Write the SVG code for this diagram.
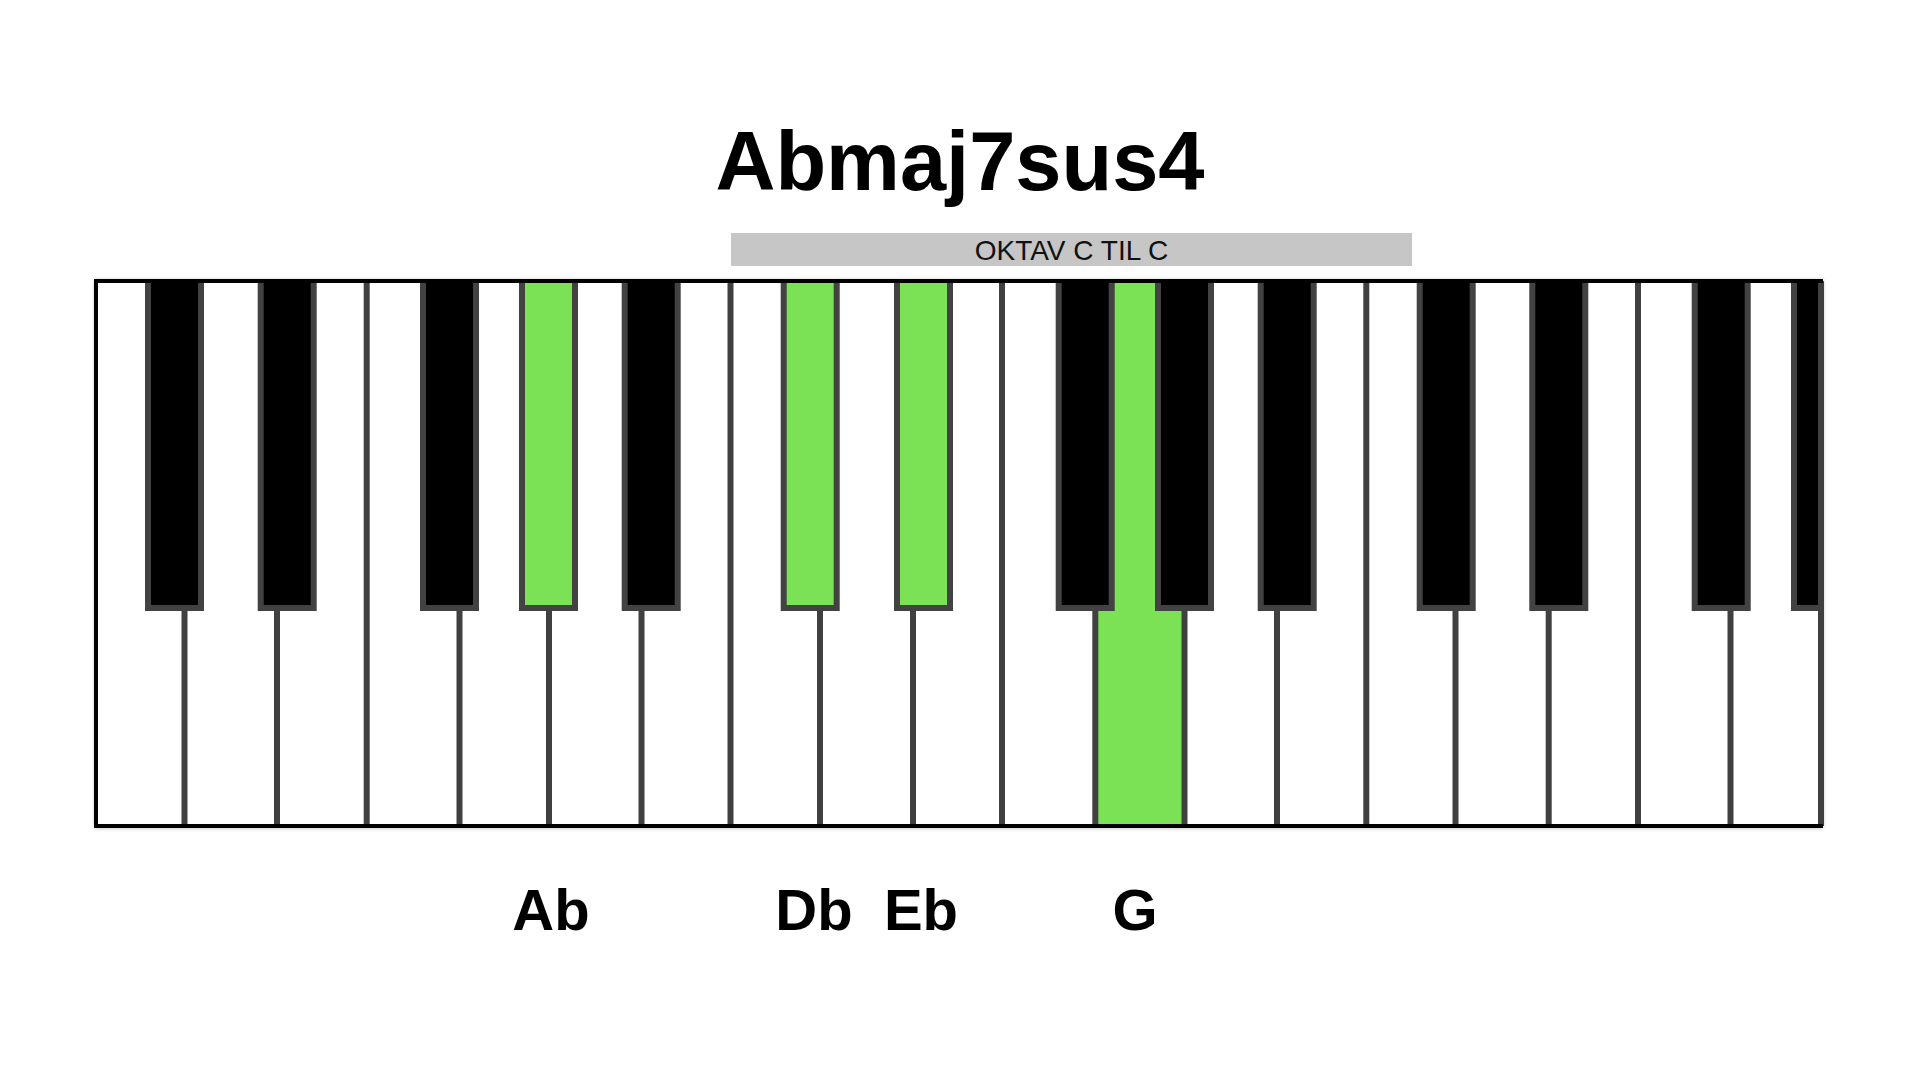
<svg xmlns="http://www.w3.org/2000/svg" width="1920" height="1080" viewBox="0 0 1920 1080">
  <style>
    .title { font-family: "Liberation Sans", Arial, sans-serif; font-weight: bold; font-size: 83px; fill: #000; }
    .bar { fill: #c6c6c6; }
    .bartext { font-family: "Liberation Sans", Arial, sans-serif; font-size: 28px; fill: #111; }
    .note { font-family: "Liberation Sans", Arial, sans-serif; font-weight: bold; font-size: 58px; fill: #000; }
    .div { stroke: #404040; stroke-width: 6; fill: none; }
    .bk { fill: #000; stroke: #424242; stroke-width: 6; }
    .bkg { fill: #7be255; stroke: #424242; stroke-width: 6; }
    .wkg { fill: #7be255; }
  </style>
  <defs>
    <clipPath id="kb">
      <rect x="96" y="281" width="1725" height="545"/>
    </clipPath>
    <filter id="sh" x="-5%" y="-5%" width="110%" height="110%">
      <feGaussianBlur stdDeviation="2"/>
    </filter>
  </defs>
  <rect width="1920" height="1080" fill="#fff"/>

  <g id="title">
    <text class="title" x="960" y="190" text-anchor="middle">Abmaj7sus4</text>
  </g>

  <g id="octave-bar">
    <rect class="bar" x="731" y="233" width="681" height="33"/>
    <text class="bartext" x="1071.5" y="260" text-anchor="middle">OKTAV C TIL C</text>
  </g>

  <g id="keyboard">
    <rect x="95" y="280" width="1728" height="548" fill="#000" opacity="0.3" filter="url(#sh)"/>
    <rect x="96" y="281" width="1725" height="545" fill="#fff"/>
    <g clip-path="url(#kb)">
      <g id="white-G-highlight">
        <rect class="wkg" x="1098" y="281" width="84" height="545"/>
      </g>
      <g id="white-key-dividers">
        <line class="div" x1="184.5" y1="281" x2="184.5" y2="826"/>
        <line class="div" x1="277" y1="281" x2="277" y2="826"/>
        <line class="div" x1="366.7" y1="281" x2="366.7" y2="826"/>
        <line class="div" x1="459.5" y1="281" x2="459.5" y2="826"/>
        <line class="div" x1="549" y1="281" x2="549" y2="826"/>
        <line class="div" x1="641.5" y1="281" x2="641.5" y2="826"/>
        <line class="div" x1="730.5" y1="281" x2="730.5" y2="826"/>
        <line class="div" x1="820" y1="281" x2="820" y2="826"/>
        <line class="div" x1="913" y1="281" x2="913" y2="826"/>
        <line class="div" x1="1002" y1="281" x2="1002" y2="826"/>
        <line class="div" x1="1095.3" y1="281" x2="1095.3" y2="826"/>
        <line class="div" x1="1184.5" y1="281" x2="1184.5" y2="826"/>
        <line class="div" x1="1277" y1="281" x2="1277" y2="826"/>
        <line class="div" x1="1366.3" y1="281" x2="1366.3" y2="826"/>
        <line class="div" x1="1455.5" y1="281" x2="1455.5" y2="826"/>
        <line class="div" x1="1548.7" y1="281" x2="1548.7" y2="826"/>
        <line class="div" x1="1638" y1="281" x2="1638" y2="826"/>
        <line class="div" x1="1730.5" y1="281" x2="1730.5" y2="826"/>
      </g>
      <g id="black-keys">
        <rect id="bk-Cs1" class="bk" x="148" y="276" width="53" height="332"/>
        <rect id="bk-Ds1" class="bk" x="260.7" y="276" width="53" height="332"/>
        <rect id="bk-Fs1" class="bk" x="423" y="276" width="53" height="332"/>
        <rect id="bk-Ab1" class="bkg" x="522" y="276" width="53" height="332"/>
        <rect id="bk-Bb1" class="bk" x="624.7" y="276" width="53" height="332"/>
        <rect id="bk-Db2" class="bkg" x="783.7" y="276" width="53" height="332"/>
        <rect id="bk-Eb2" class="bkg" x="897" y="276" width="53" height="332"/>
        <rect id="bk-Fs2" class="bk" x="1058.7" y="276" width="53" height="332"/>
        <rect id="bk-Gs2" class="bk" x="1158" y="276" width="53" height="332"/>
        <rect id="bk-Bb2" class="bk" x="1260.7" y="276" width="53" height="332"/>
        <rect id="bk-Cs3" class="bk" x="1419.7" y="276" width="53" height="332"/>
        <rect id="bk-Ds3" class="bk" x="1532.3" y="276" width="53" height="332"/>
        <rect id="bk-Fs3" class="bk" x="1694.7" y="276" width="53" height="332"/>
        <rect id="bk-Gs3" class="bk" x="1794" y="276" width="53" height="332"/>
      </g>
    </g>
    <g id="frame">
      <line x1="1821" y1="281" x2="1821" y2="826" stroke="#404040" stroke-width="6"/>
      <path d="M1823 281 H96 V826 H1823" fill="none" stroke="#000" stroke-width="4"/>
    </g>
  </g>

  <g id="labels">
    <text class="note" x="551" y="930" text-anchor="middle">Ab</text>
    <text class="note" x="814" y="930" text-anchor="middle">Db</text>
    <text class="note" x="921" y="930" text-anchor="middle">Eb</text>
    <text class="note" x="1135" y="930" text-anchor="middle">G</text>
  </g>
</svg>
